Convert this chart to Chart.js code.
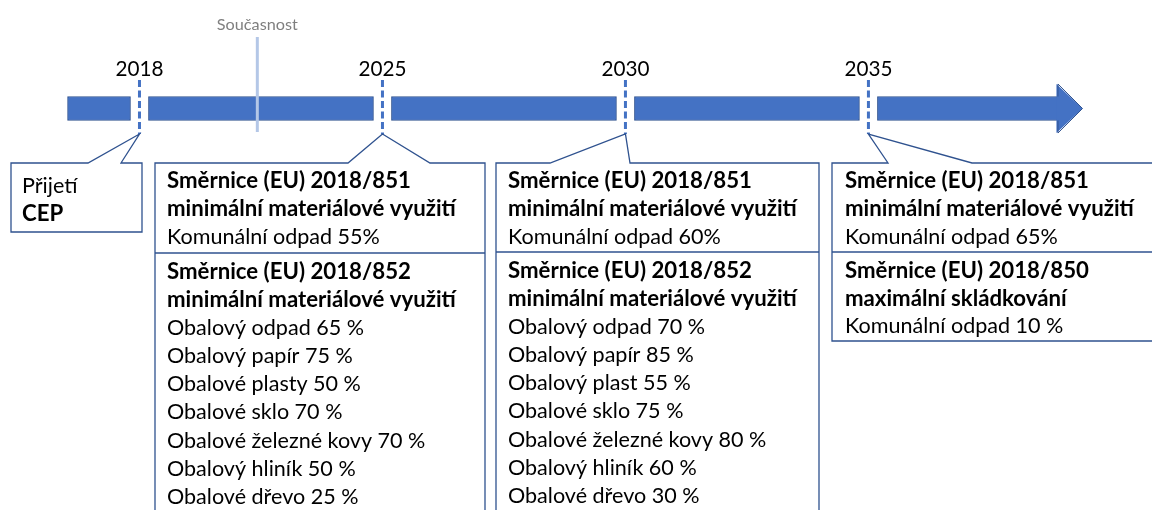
<!DOCTYPE html>
<html><head><meta charset="utf-8">
<script src="https://cdn.jsdelivr.net/npm/chart.js@4"></script>
<style>html,body{margin:0;padding:0;background:#fff}#wrap{width:1152px;height:510px;position:relative;overflow:hidden}</style>
</head><body><div id="wrap"><canvas id="c" width="1152" height="510"></canvas></div>
<script>
// ---- data ----
const milestones = ['2018', '2025', '2030', '2035'];
const milestoneIdx = [0, 1, 2, 3];
const presentLabel = 'Současnost';
const presentPos = 0.485;          // between 2018 and 2025 on the milestone axis
const timelineStart = -0.296;
const arrowBodyEnd = 3.78;
const arrowTip = 3.881;
const gapHalf = 0.037;

const box2018 = ['Přijetí', 'CEP'];
const box2018Bold = [false, true];
const box2025Top = ['Směrnice (EU) 2018/851', 'minimální materiálové využití', 'Komunální odpad 55%'];
const box2025Bottom = ['Směrnice (EU) 2018/852', 'minimální materiálové využití', 'Obalový odpad 65 %', 'Obalový papír 75 %', 'Obalové plasty 50 %', 'Obalové sklo 70 %', 'Obalové železné kovy 70 %', 'Obalový hliník 50 %', 'Obalové dřevo 25 %'];
const box2030Top = ['Směrnice (EU) 2018/851', 'minimální materiálové využití', 'Komunální odpad 60%'];
const box2030Bottom = ['Směrnice (EU) 2018/852', 'minimální materiálové využití', 'Obalový odpad 70 %', 'Obalový papír 85 %', 'Obalový plast 55 %', 'Obalové sklo 75 %', 'Obalové železné kovy 80 %', 'Obalový hliník 60 %', 'Obalové dřevo 30 %'];
const box2035Top = ['Směrnice (EU) 2018/851', 'minimální materiálové využití', 'Komunální odpad 65%'];
const box2035Bottom = ['Směrnice (EU) 2018/850', 'maximální skládkování', 'Komunální odpad 10 %'];

// ---- layout / style ----
const TRACK_Y = 108.5;
const FONT = 'Lato, "Open Sans", sans-serif';
const BLUE = '#4472C4', DARK = '#2F528F', LIGHT = '#B4C7E7';

const starts = [timelineStart, ...milestoneIdx.map(m => m + gapHalf)];
const ends = [...milestoneIdx.map(m => m - gapHalf), arrowBodyEnd];
const segments = starts.map((s, i) => ({ x: [s, ends[i]], y: TRACK_Y }));

const callouts = [
  { m: 0, left: 11, right: 142, bottom: 232, b1: 88, b2: 121, tx: 22, sections: [{ lines: box2018, bold: box2018Bold }] },
  { m: 1, left: 155, right: 485, bottom: 540, b1: 348, b2: 430, tx: 167, sep: 253, sections: [{ lines: box2025Top }, { lines: box2025Bottom }] },
  { m: 2, left: 496, right: 819, bottom: 540, b1: 550, b2: 630, tx: 508, sep: 252, sections: [{ lines: box2030Top }, { lines: box2030Bottom }] },
  { m: 3, left: 832, right: 1170, bottom: 341, b1: 888, b2: 972, tx: 845, sep: 252, sections: [{ lines: box2035Top }, { lines: box2035Bottom }] }
];

function fitSize(ctx, weight, text, target) {
  ctx.font = weight + ' 20px ' + FONT;
  return 20 * target / ctx.measureText(text).width;
}

const drawPlugin = {
  id: 'timeline',
  afterDatasetsDraw(chart) {
    const ctx = chart.ctx, xs = chart.scales.x, ys = chart.scales.y;
    const ym = ys.getPixelForValue(TRACK_Y);
    const yTop = ym - 12, yBot = ym + 12;
    // arrow head
    const xb = xs.getPixelForValue(arrowBodyEnd), xt = xs.getPixelForValue(arrowTip);
    ctx.save();
    ctx.beginPath();
    ctx.moveTo(xb - 1.5, yTop + 1); ctx.lineTo(xb - 1.5, ym - 24.5); ctx.lineTo(xt, ym);
    ctx.lineTo(xb - 1.5, ym + 24.5); ctx.lineTo(xb - 1.5, yBot - 1); ctx.closePath();
    ctx.fillStyle = BLUE; ctx.fill();
    ctx.beginPath();
    ctx.moveTo(xb, yTop); ctx.lineTo(xb, ym - 24.5); ctx.lineTo(xt, ym); ctx.lineTo(xb, ym + 24.5); ctx.lineTo(xb, yBot);
    ctx.strokeStyle = DARK; ctx.lineWidth = 1; ctx.stroke();

    // present line
    const xp = xs.getPixelForValue(presentPos);
    ctx.beginPath(); ctx.moveTo(xp, 37); ctx.lineTo(xp, 132);
    ctx.strokeStyle = LIGHT; ctx.lineWidth = 3; ctx.stroke();
    ctx.fillStyle = '#7F7F7F';
    ctx.font = fitSize(ctx, 'normal', presentLabel, 81).toFixed(2) + 'px ' + FONT;
    ctx.textAlign = 'center'; ctx.textBaseline = 'middle';
    ctx.fillText(presentLabel, xp, 25);

    // milestone dashed lines + labels
    const ys2 = fitSize(ctx, 'normal', '2018', 48);
    milestones.forEach((lab, i) => {
      const x = xs.getPixelForValue(milestoneIdx[i]);
      ctx.beginPath(); ctx.setLineDash([7, 3.5]);
      ctx.moveTo(x, 80); ctx.lineTo(x, 134);
      ctx.strokeStyle = BLUE; ctx.lineWidth = 3; ctx.stroke();
      ctx.setLineDash([]);
      ctx.fillStyle = '#000';
      ctx.font = ys2.toFixed(2) + 'px ' + FONT;
      ctx.textAlign = 'center'; ctx.textBaseline = 'middle';
      ctx.fillText(lab, x, 69);
    });

    // callouts
    const boldSize = fitSize(ctx, 'bold', 'minimální materiálové využití', 289);
    const regSize = fitSize(ctx, 'normal', 'Komunální odpad 55%', 213);
    callouts.forEach(c => {
      const tipX = xs.getPixelForValue(milestoneIdx[c.m]);
      const top = 163, tipY = 134;
      ctx.beginPath();
      ctx.moveTo(c.left, top); ctx.lineTo(c.b1, top); ctx.lineTo(tipX, tipY); ctx.lineTo(c.b2, top);
      ctx.lineTo(c.right, top); ctx.lineTo(c.right, c.bottom); ctx.lineTo(c.left, c.bottom); ctx.closePath();
      ctx.fillStyle = '#fff'; ctx.fill();
      ctx.strokeStyle = DARK; ctx.lineWidth = 1.3; ctx.stroke();
      if (c.sep) {
        ctx.beginPath(); ctx.moveTo(c.left, c.sep); ctx.lineTo(c.right, c.sep); ctx.stroke();
      }
      ctx.textAlign = 'left'; ctx.textBaseline = 'middle'; ctx.fillStyle = '#000';
      c.sections.forEach((s, si) => {
        const y0 = si === 0 ? (c.sep ? 181 : 186) : c.sep + 19;
        const pitch = si === 0 ? 28.2 : (s.lines.length > 3 ? 28.1 : 27.5);
        s.lines.forEach((t, li) => {
          const bold = s.bold ? s.bold[li] : li < 2;
          ctx.font = (bold ? 'bold ' + boldSize.toFixed(2) : regSize.toFixed(2)) + 'px ' + FONT;
          ctx.fillText(t, c.tx, y0 + li * pitch);
        });
      });
    });
    ctx.restore();
  }
};

function build() {
  new Chart(document.getElementById('c'), {
    type: 'bar',
    data: {
      datasets: [{
        data: segments,
        backgroundColor: BLUE,
        borderColor: DARK,
        borderWidth: 1,
        borderSkipped: false,
        barThickness: 24,
        grouped: false
      }]
    },
    options: {
      indexAxis: 'y',
      responsive: false,
      animation: false,
      events: [],
      layout: { padding: 0 },
      plugins: { legend: { display: false }, tooltip: { enabled: false } },
      scales: {
        x: { type: 'linear', min: -0.574, max: 4.167, display: false, offset: false },
        y: { type: 'linear', min: 0, max: 510, reverse: true, display: false, offset: false }
      }
    },
    plugins: [drawPlugin]
  });
}
if (document.fonts && document.fonts.load) {
  Promise.all([document.fonts.load('20px Lato'), document.fonts.load('bold 20px Lato')]).then(build, build);
} else build();
</script></body></html>
